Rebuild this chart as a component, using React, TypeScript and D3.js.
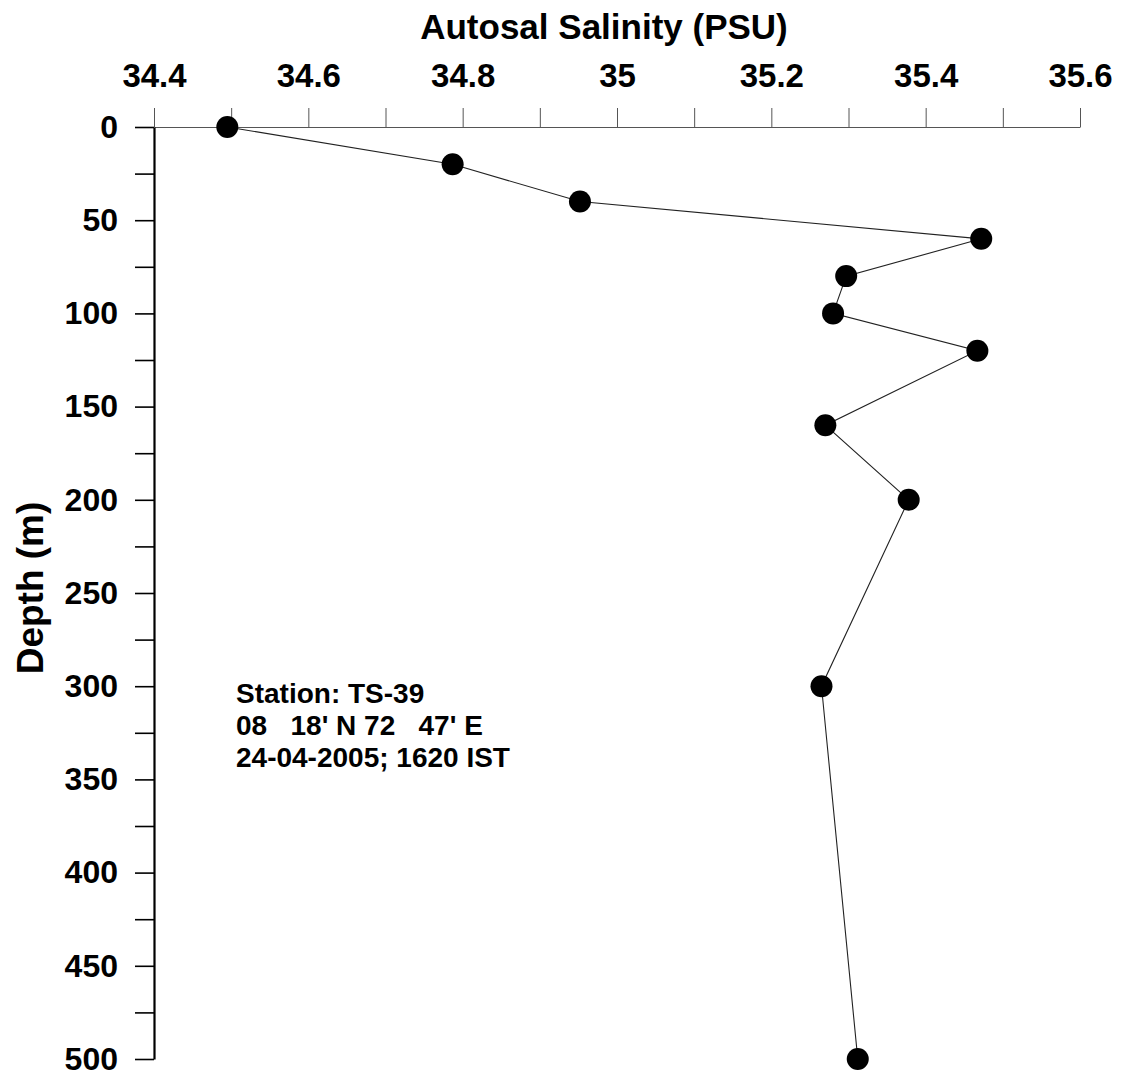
import React, { useRef, useEffect } from 'react';
import * as d3 from 'd3';

// station TS-39 profile
const depths = [0, 20, 40, 60, 80, 100, 120, 160, 200, 300, 500];
const salinity = [34.495, 34.787, 34.952, 35.472, 35.297, 35.28, 35.467, 35.27, 35.378, 35.265, 35.312];
const salinityTicks = [34.4, 34.5, 34.6, 34.7, 34.8, 34.9, 35, 35.1, 35.2, 35.3, 35.4, 35.5, 35.6];
const depthTicks = [0, 25, 50, 75, 100, 125, 150, 175, 200, 225, 250, 275, 300, 325, 350, 375, 400, 425, 450, 475, 500];
const stationLines = ['Station: TS-39', "08   18' N 72   47' E", '24-04-2005; 1620 IST'];

const FONT = '"Liberation Sans", Arial, sans-serif';

function App() {
  const ref = useRef<SVGSVGElement>(null);

  useEffect(() => {
    if (!ref.current) return;
    const svg = d3.select(ref.current);
    svg.selectAll('*').remove();

    const x = d3.scaleLinear().domain([34.4, 35.6]).range([154, 1080]);
    const y = d3.scaleLinear().domain([0, 500]).range([127, 1059]);

    // top axis, labels every 0.2
    const top = svg.append('g').attr('transform', `translate(0,${y(0)})`)
      .call(d3.axisTop(x)
        .tickValues(salinityTicks)
        .tickSize(19)
        .tickSizeOuter(0)
        .tickPadding(21)
        .tickFormat((d, i) => (i % 2 === 0 ? d3.format('~g')(d as number) : '')));
    top.select('.domain').attr('stroke', '#555').attr('stroke-width', 1);
    top.selectAll('.tick line').attr('stroke', '#555').attr('stroke-width', 1);
    top.selectAll('.tick text')
      .attr('font-family', FONT).attr('font-weight', 'bold').attr('font-size', 33).attr('fill', '#000');

    // left axis, labels every 50
    const left = svg.append('g').attr('transform', `translate(${x(34.4)},0)`)
      .call(d3.axisLeft(y)
        .tickValues(depthTicks)
        .tickSize(19)
        .tickSizeOuter(0)
        .tickPadding(17)
        .tickFormat((d) => ((d as number) % 50 === 0 ? String(d) : '')));
    left.select('.domain').attr('stroke', '#000').attr('stroke-width', 2.2);
    left.selectAll('.tick line').attr('stroke', '#000').attr('stroke-width', 1.6);
    left.selectAll('.tick text')
      .attr('font-family', FONT).attr('font-weight', 'bold').attr('font-size', 32).attr('fill', '#000');

    const pts = depths.map((d, i) => [salinity[i], d] as [number, number]);
    const line = d3.line<[number, number]>().x(d => x(d[0])).y(d => y(d[1]));

    svg.append('path')
      .attr('d', line(pts))
      .attr('fill', 'none')
      .attr('stroke', '#222')
      .attr('stroke-width', 1.1);

    svg.append('g').selectAll('circle')
      .data(pts)
      .join('circle')
      .attr('cx', d => x(d[0]))
      .attr('cy', d => y(d[1]))
      .attr('r', 11)
      .attr('fill', '#000');

    svg.append('text')
      .attr('x', 604).attr('y', 39)
      .attr('text-anchor', 'middle')
      .attr('font-family', FONT).attr('font-weight', 'bold').attr('font-size', 35)
      .text('Autosal Salinity (PSU)');

    svg.append('text')
      .attr('transform', 'translate(43,588) rotate(-90)')
      .attr('text-anchor', 'middle')
      .attr('font-family', FONT).attr('font-weight', 'bold').attr('font-size', 37)
      .text('Depth (m)');

    svg.append('g').selectAll('text')
      .data(stationLines)
      .join('text')
      .attr('x', 236)
      .attr('y', (d, i) => 703 + i * 32)
      .attr('font-family', FONT).attr('font-weight', 'bold').attr('font-size', 28)
      .style('white-space', 'pre')
      .attr('xml:space', 'preserve')
      .text(d => d);
  }, []);

  return (
    <svg
      ref={ref}
      width={1130}
      height={1077}
      style={{ position: 'absolute', left: 0, top: 0, background: '#fff' }}
    />
  );
}

export default App;
